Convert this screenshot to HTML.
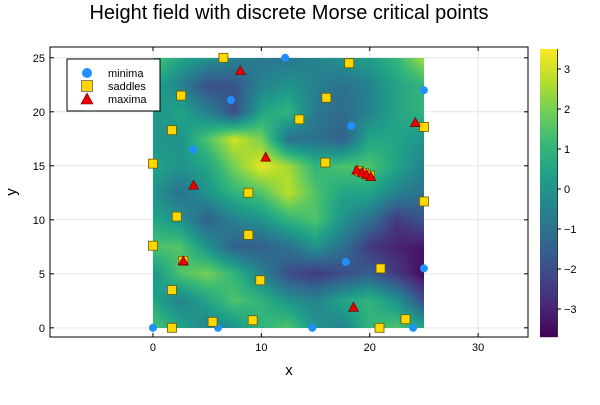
<!DOCTYPE html>
<html><head><meta charset="utf-8"><style>
body{margin:0;background:#fff}
svg{font-family:"Liberation Sans","DejaVu Sans",sans-serif}
</style></head><body>
<svg id="c" width="600" height="400" viewBox="0 0 600 400">
<rect width="600" height="400" fill="#fff"/>
<text x="289" y="19" font-size="20" text-anchor="middle" fill="#000">Height field with discrete Morse critical points</text>
<g id="grid"></g>
<g id="hm"></g>
<g id="axes"></g>
<g id="marks"></g>
<g id="cbar"></g>
<g id="legend">
<rect x="67" y="59" width="93" height="52" fill="#fff" stroke="#000" stroke-width="1"/>
<circle cx="87" cy="73" r="5" fill="#1e90ff"/>
<text x="108" y="77" font-size="11">minima</text>
<rect x="81.5" y="80.5" width="11" height="11" fill="#ffd700" stroke="#666" stroke-width="0.8"/>
<text x="108" y="90" font-size="11">saddles</text>
<polygon points="87,93 93,104 81,104" fill="#ee0000" stroke="#600" stroke-width="0.6"/>
<text x="108" y="103" font-size="11">maxima</text>
</g>
<text x="289" y="375" font-size="15" text-anchor="middle">x</text>
<text x="16" y="192" font-size="15" text-anchor="middle" transform="rotate(-90 16 192)">y</text>
</svg>
<script>
const gridY=[25,22.5,20,17.5,15,12.5,10,7.5,5,2.5,0];
const gridX=[0,2.5,5,7.5,10,12.5,15,17.5,20,22.5,25];
const field=[
[1.5,0.5,0,-0.5,-0.8,-0.8,-0.5,0,0.3,1,2.5],
[0.5,-0.5,-2,-1.8,-0.5,0,-0.5,-1,-0.5,0.5,1],
[0,0.5,-0.5,-2,0.5,1,-0.8,-1.2,-0.5,0.5,1],
[0,0,1.5,3,2,-1,-1,-1.5,0.5,0.5,0],
[0.5,0,0.5,2,3.3,2.5,1,1.5,1.5,0.5,-0.5],
[0,-1,0,1,1.5,2.8,1.5,0.5,0.5,-0.5,-1],
[0.5,0,-1.5,-0.5,0,1,1.5,0,-1,-2.5,-1.8],
[1.5,1.5,0,-1.5,-1.5,-1,0,-1,-2.5,-3,-3.3],
[0,1.5,2,1,-0.5,-2,-2.5,-2,-1.5,-2.5,-3.5],
[0.5,-0.5,0.5,1.5,1,0,-0.5,0.5,1,0,-2],
[1.5,0.5,-0.5,0,1,1.5,0,-0.5,1,1.5,0.5]];
const minX=[12.2,25,7.2,18.3,3.7,2.4,17.8,25,1.5,0,6,14.7,24];
const minY=[25,22,21.1,18.7,16.5,10.2,6.1,5.5,3.6,0,0,0,0];
const sadX=[6.5,18.1,2.6,16,13.5,1.75,25,0,15.9,8.8,25,2.2,8.8,0,2.8,21,9.9,1.75,5.5,9.2,23.3,1.75,20.9,19.0,19.5,20.0];
const sadY=[25,24.5,21.5,21.3,19.3,18.3,18.6,15.2,15.3,12.5,11.7,10.3,8.6,7.6,6.2,5.5,4.4,3.5,0.55,0.7,0.8,0,0,14.5,14.3,14.1];
const maxX=[8.06,24.2,10.4,3.75,2.8,18.5,18.8,19.3,19.7,20.1];
const maxY=[23.8,19.0,15.8,13.2,6.2,1.9,14.6,14.4,14.2,14.0];
const xTicks=[0,10,20,30];
const yTicks=[0,5,10,15,20,25];
const cTicks=[-3,-2,-1,0,1,2,3];

const X0=50,X1=528,Y0=47,Y1=337,xmin=-9.5,xmax=34.6,ymin=-0.85,ymax=26;
const sx=v=>X0+(v-xmin)/(xmax-xmin)*(X1-X0);
const sy=v=>Y1-(v-ymin)/(ymax-ymin)*(Y1-Y0);
const cmin=-3.7,cmax=3.5,CB0=49,CB1=337;
const scy=v=>CB1-(v-cmin)/(cmax-cmin)*(CB1-CB0);
const NS='http://www.w3.org/2000/svg';
function mk(t,a,p){const e=document.createElementNS(NS,t);for(const k in a)e.setAttribute(k,a[k]);p.appendChild(e);return e;}
const vir=[[68,1,84],[72,40,120],[62,74,137],[49,104,142],[38,130,142],[31,158,137],[53,183,121],[109,205,89],[180,222,44],[253,231,37]];
function col(v){let t=(v-cmin)/(cmax-cmin);t=Math.max(0,Math.min(1,t))*(vir.length-1);const i=Math.min(vir.length-2,Math.floor(t)),f=t-i;return vir[i].map((c,k)=>Math.round(c+(vir[i+1][k]-c)*f));}

const grid=document.getElementById('grid');
xTicks.forEach(v=>{const l=mk('line',{x1:sx(v),x2:sx(v),y1:Y0,y2:Y1,stroke:'#e6e6e6','stroke-width':1},grid);});
yTicks.forEach(v=>{const l=mk('line',{x1:X0,x2:X1,y1:sy(v),y2:sy(v),stroke:'#e6e6e6','stroke-width':1},grid);});

const hx0=Math.round(sx(0)),hx1=Math.round(sx(25)),hy0=Math.round(sy(25)),hy1=Math.round(sy(0));
const W=hx1-hx0,H=hy1-hy0;
const cv=document.createElement('canvas');cv.width=W;cv.height=H;
const ctx=cv.getContext('2d');const img=ctx.createImageData(W,H);
for(let py=0;py<H;py++){const gy=py/(H-1)*(gridY.length-1);const r=Math.min(gridY.length-2,Math.floor(gy)),fy=gy-r;
 for(let px=0;px<W;px++){const gx=px/(W-1)*(gridX.length-1);const c=Math.min(gridX.length-2,Math.floor(gx)),fx=gx-c;
  const v=field[r][c]*(1-fx)*(1-fy)+field[r][c+1]*fx*(1-fy)+field[r+1][c]*(1-fx)*fy+field[r+1][c+1]*fx*fy;
  const k=col(v);const o=(py*W+px)*4;img.data[o]=k[0];img.data[o+1]=k[1];img.data[o+2]=k[2];img.data[o+3]=255;}}
ctx.putImageData(img,0,0);
const hm=document.getElementById('hm');
const im=mk('image',{x:hx0,y:hy0,width:W,height:H,preserveAspectRatio:'none'},hm);
im.setAttributeNS('http://www.w3.org/1999/xlink','href',cv.toDataURL());



const ax=document.getElementById('axes');
mk('rect',{x:X0,y:Y0,width:X1-X0,height:Y1-Y0,fill:'none',stroke:'#000','stroke-width':1},ax);
xTicks.forEach(v=>{mk('line',{x1:sx(v),x2:sx(v),y1:Y1,y2:Y1-4,stroke:'#000'},ax);mk('line',{x1:sx(v),x2:sx(v),y1:Y0,y2:Y0+4,stroke:'#000'},ax);
 const t=mk('text',{x:sx(v),y:Y1+14,'font-size':11,'text-anchor':'middle'},ax);t.textContent=v;
 });
yTicks.forEach(v=>{mk('line',{x1:X0,x2:X0+4,y1:sy(v),y2:sy(v),stroke:'#000'},ax);mk('line',{x1:X1,x2:X1-4,y1:sy(v),y2:sy(v),stroke:'#000'},ax);
 const t=mk('text',{x:X0-5,y:sy(v)+4,'font-size':11,'text-anchor':'end'},ax);t.textContent=v;
 });

const mg=document.getElementById('marks');
minX.forEach((x,i)=>{const c=mk('circle',{cx:sx(x),cy:sy(minY[i]),r:4,fill:'#1e90ff'},mg);
 });
sadX.forEach((x,i)=>{const r=mk('rect',{x:sx(x)-4.5,y:sy(sadY[i])-4.5,width:9,height:9,fill:'#ffd700',stroke:'#6b5a00','stroke-width':0.8},mg);
 });
maxX.forEach((x,i)=>{const cx=sx(x),cy=sy(maxY[i]);const p=mk('polygon',{points:`${cx},${cy-5} ${cx+5},${cy+4} ${cx-5},${cy+4}`,fill:'#ee0000',stroke:'#600','stroke-width':0.6},mg);
 });

const cb=document.getElementById('cbar');
for(let py=CB0;py<CB1;py++){const v=cmax-(py-CB0)/(CB1-CB0)*(cmax-cmin);const k=col(v);
 mk('rect',{x:540,y:py,width:17,height:1.2,fill:`rgb(${k})`},cb);}
mk('line',{x1:557.5,x2:557.5,y1:CB0,y2:CB1,stroke:'#000','stroke-width':0.8},cb);
cTicks.forEach(v=>{mk('line',{x1:557,x2:561,y1:scy(v),y2:scy(v),stroke:'#000'},cb);
 const t=mk('text',{x:564,y:scy(v)+4,'font-size':11},cb);t.textContent=v<0?'\u2212'+(-v):v;
 });
</script>
</body></html>
